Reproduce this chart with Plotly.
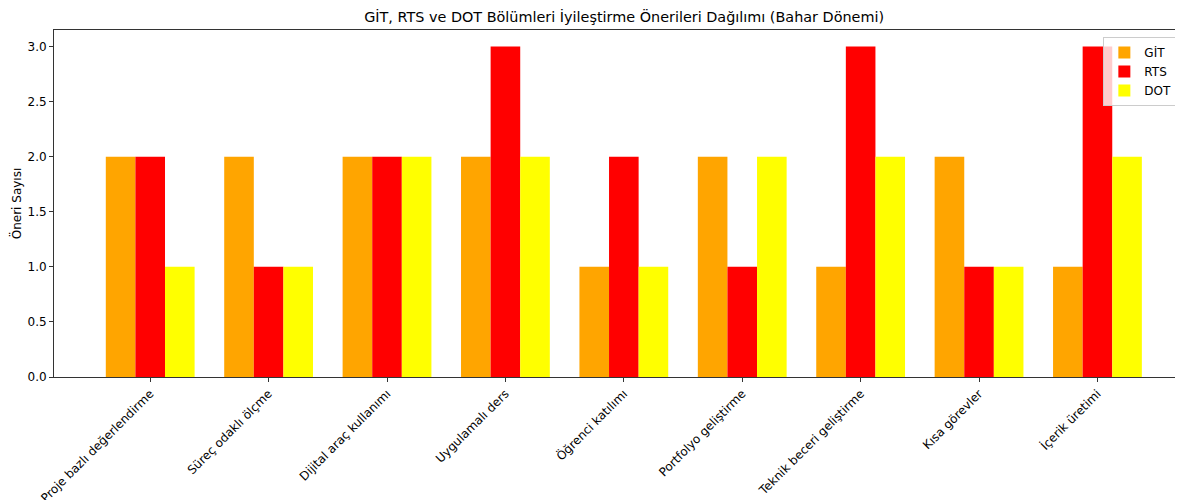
import plotly.graph_objects as go

categories = ["Proje bazlı değerlendirme", "Süreç odaklı ölçme", "Dijital araç kullanımı",
              "Uygulamalı ders", "Öğrenci katılımı", "Portfolyo geliştirme",
              "Teknik beceri geliştirme", "Kısa görevler", "İçerik üretimi"]
git_vals = [2, 2, 2, 2, 1, 2, 1, 2, 1]
rts_vals = [2, 1, 2, 3, 2, 1, 3, 1, 3]
dot_vals = [1, 1, 2, 2, 1, 2, 2, 1, 2]
series = [("GİT", git_vals, "#FFA500"), ("RTS", rts_vals, "#FF0000"), ("DOT", dot_vals, "#FFFF00")]
y_ticks = [0.0, 0.5, 1.0, 1.5, 2.0, 2.5, 3.0]

fig = go.Figure()
for name, vals, color in series:
    fig.add_trace(go.Bar(x=categories, y=vals, name=name, marker=dict(color=color, line=dict(width=0))))

font = "DejaVu Sans"
fs = 12
fig.update_layout(
    width=1175, height=492,
    margin=dict(l=46, r=0, t=22, b=123, autoexpand=False),
    barmode="group", bargap=0.25, bargroupgap=0,
    plot_bgcolor="white", paper_bgcolor="white",
    font=dict(family=font, size=fs, color="black"),
    title=dict(text="GİT, RTS ve DOT Bölümleri İyileştirme Önerileri Dağılımı (Bahar Dönemi)",
               x=0.505, xref="paper", xanchor="center", y=0.982, yanchor="middle",
               font=dict(family=font, size=14.4, color="black")),
    legend=dict(x=0.995, xanchor="right", y=0.98, yanchor="top",
                bordercolor="#cccccc", borderwidth=1, bgcolor="rgba(255,255,255,0.8)",
                font=dict(family=font, size=fs), tracegroupgap=0, itemwidth=30),
    xaxis=dict(range=[-0.8125, 8.7225], tickangle=-45, showline=True, linecolor="#333333",
               linewidth=1, mirror=True, ticks="outside", ticklen=4, tickcolor="#333333",
               showgrid=False, automargin=False, tickfont=dict(family=font, size=fs)),
    yaxis=dict(range=[0, 3.15], tickvals=y_ticks, ticktext=[f"{v:.1f}" for v in y_ticks],
               showline=True, linecolor="#333333", linewidth=1, mirror=True, ticks="outside",
               ticklen=4, tickcolor="#333333", showgrid=False, zeroline=False, automargin=False,
               title=dict(text="Öneri Sayısı", font=dict(family=font, size=fs), standoff=8),
               tickfont=dict(family=font, size=fs)),
)
fig.write_html("out.html")
